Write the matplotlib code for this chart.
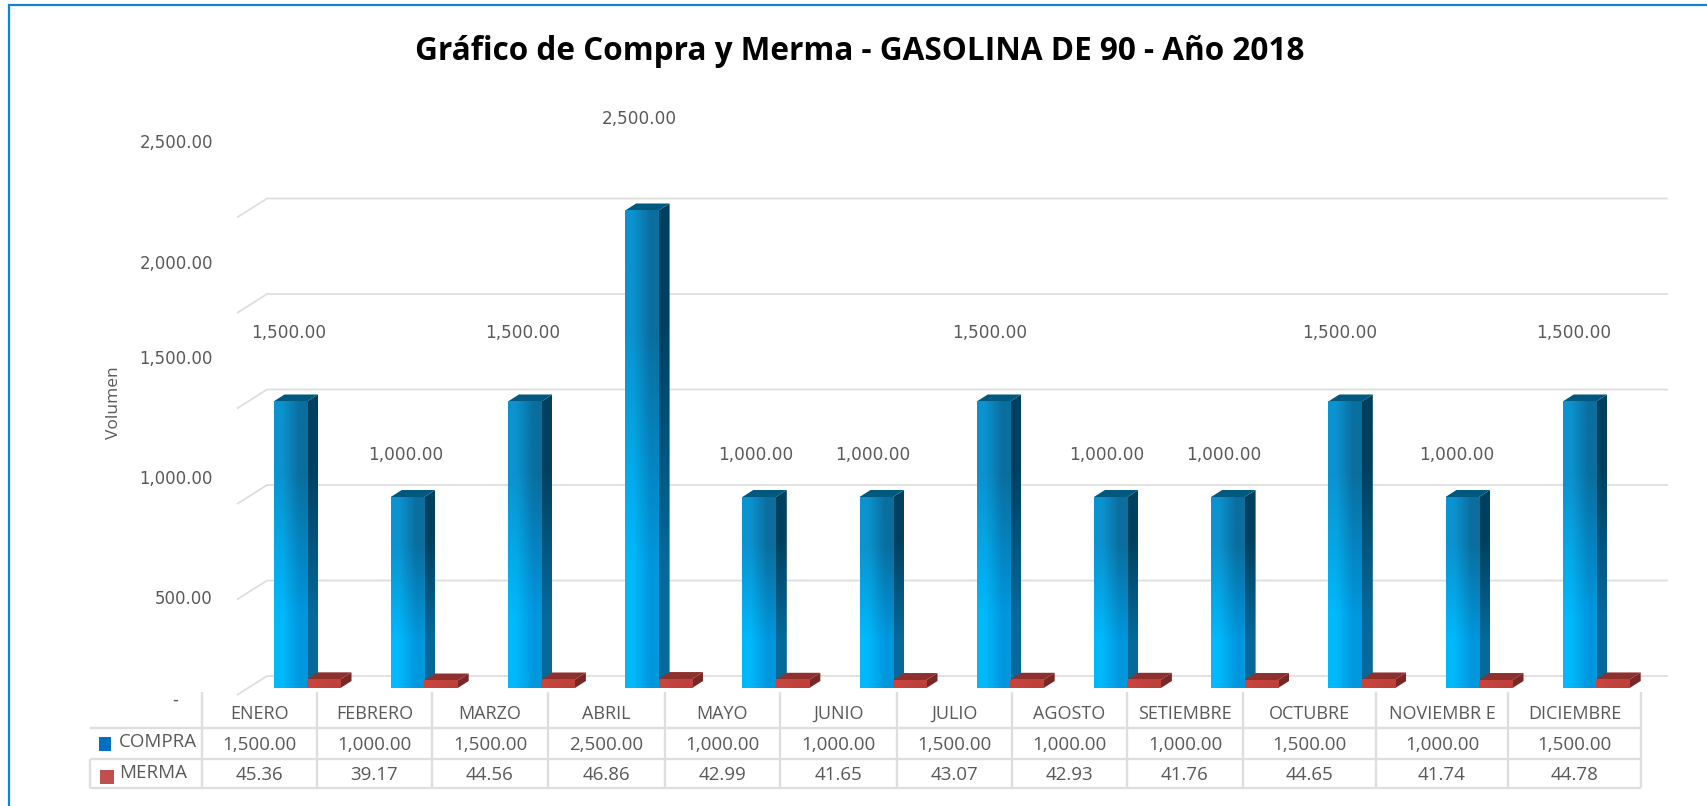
import numpy as np
import matplotlib
matplotlib.use('Agg')
import matplotlib.pyplot as plt
from matplotlib.patches import Polygon, Rectangle

meses = ['ENERO', 'FEBRERO', 'MARZO', 'ABRIL', 'MAYO', 'JUNIO', 'JULIO', 'AGOSTO',
         'SETIEMBRE', 'OCTUBRE', 'NOVIEMBR E', 'DICIEMBRE']
compra = [1500, 1000, 1500, 2500, 1000, 1000, 1500, 1000, 1000, 1500, 1000, 1500]
merma = [45.36, 39.17, 44.56, 46.86, 42.99, 41.65, 43.07, 42.93, 41.76, 44.65, 41.74, 44.78]
y_ticks = [0, 500, 1000, 1500, 2000, 2500]

# the picture is laid out in pixels, these turn pixels into data units
W, H = 1708, 806
SLOT = 117.2
UNIT = 0.191
BASE_Y = 688
X0 = 307
BAR_W = 33.5 / SLOT
DX = 11 / SLOT
DY = 7 / UNIT
GRAY = '#595959'
LINE = '#DEDEDE'
TICK_SHIFT = [12, 6.5, -18, -42, -42, -67]
LABEL_SHIFT = {1000: 42, 1500: 68, 2500: 92}
TABLE_X = [202, 317, 432, 548, 665, 780, 897, 1012, 1127, 1243, 1376, 1508, 1641]

fig = plt.figure(figsize=(W / 100, H / 100), dpi=100)
fig.patch.set_facecolor('white')


def hexrgb(c):
    return matplotlib.colors.to_rgb(c)


def gradient(box, tl, tr, bl, br, clip=None, z=3):
    x0, x1, y0, y1 = box
    img = np.array([[hexrgb(tl), hexrgb(tr)], [hexrgb(bl), hexrgb(br)]])
    im = ax.imshow(img, extent=[x0, x1, y0, y1], aspect='auto', interpolation='bilinear', zorder=z)
    if clip is not None:
        im.set_clip_path(clip)
    return im


# axes for the bars
left, right, top, bottom = 150, 1700, 80, 710
ax = fig.add_axes([left / W, 1 - bottom / H, (right - left) / W, (bottom - top) / H])
ax.set_xlim((left - X0) / SLOT, (right - X0) / SLOT)
ax.set_ylim((BASE_Y - bottom) / UNIT, (BASE_Y - top) / UNIT)
ax.autoscale(False)
ax.axis('off')

# walls: grid lines and the diagonal at the left
wall_y = 12 / UNIT
wall_x0 = (267 - X0) / SLOT
wall_x1 = (1668 - X0) / SLOT
front_x = (237 - X0) / SLOT
for v in y_ticks:
    ax.plot([front_x, wall_x0, wall_x1], [v + wall_y - 19 / UNIT, v + wall_y, v + wall_y],
            color=LINE, lw=1.3, zorder=1, solid_capstyle='butt', solid_joinstyle='miter')

x = np.arange(len(meses))
bars1 = ax.bar(x - BAR_W / 2, compra, BAR_W, color='none', zorder=2)
bars2 = ax.bar(x + BAR_W / 2, merma, BAR_W, color='none', zorder=2)


def draw_box(rect, z, front, side, topc):
    x0 = rect.get_x()
    x1 = x0 + rect.get_width()
    h = rect.get_height()
    side_poly = Polygon([(x1, 0), (x1 + DX, DY), (x1 + DX, h + DY), (x1, h)], closed=True,
                        transform=ax.transData, fc='none', ec='none', zorder=z)
    ax.add_patch(side_poly)
    gradient((x1, x1 + DX, 0, h + DY), side[0], side[0], side[1], side[1], clip=side_poly, z=z)
    ax.fill([x0, x0 + DX, x1 + DX, x1], [h, h + DY, h + DY, h], color=topc, lw=0, zorder=z)
    gradient((x0, x1, 0, h), *front, z=z + 0.1)


for i in range(len(meses)):
    z = 3 + i
    draw_box(bars1[i], z, ('#0B92CF', '#0A6E9E', '#00B9FB', '#0097DE'),
             ('#00405F', '#06699A'), '#00587F')
    draw_box(bars2[i], z + 0.3, ('#C8443E', '#C0423C', '#C8443E', '#BD3F3A'),
             ('#7A2725', '#7A2725'), '#8E302D')
    ax.annotate(f'{compra[i]:,.2f}', xy=(x[i] - BAR_W / 2, compra[i]),
                xytext=(-0.4 * i * 0.72 - 1, LABEL_SHIFT[compra[i]] * 0.72), textcoords='offset points',
                ha='center', va='center', fontsize=12.2, color=GRAY, zorder=30)

# axis tick labels sit away from their grid lines in the original
tick_x = (213 - X0) / SLOT
for v, s in zip(y_ticks, TICK_SHIFT):
    txt = f'{v:,.2f}' if v else '-'
    ax.annotate(txt, xy=(tick_x if v else (178 - X0) / SLOT, v),
                xytext=(0, -s * 0.72), textcoords='offset points',
                ha='right', va='center', fontsize=11.9, color=GRAY, zorder=30)

# overlay in plain pixels: frame, title, table
px = fig.add_axes([0, 0, 1, 1], facecolor='none')
px.set_xlim(0, W)
px.set_ylim(H, 0)
px.axis('off')

px.plot([9.5, 9.5, W], [H, 5, 5], color='#1480D8', lw=1.6, solid_joinstyle='miter')

font = ['Open Sans', 'DejaVu Sans']
px.text(860, 52, 'Gráfico de Compra y Merma - GASOLINA DE 90 - Año 2018', ha='center', va='center',
        fontsize=22.7, fontweight='bold', color='black', family=font)
px.text(114, 403, 'Volumen', rotation=90, ha='center', va='center', fontsize=12.5, color=GRAY, family=font)

for xp in TABLE_X:
    px.plot([xp, xp], [692, 788], color=LINE, lw=1.7, solid_capstyle='butt')
px.plot([90, 90], [759, 788], color=LINE, lw=1.7, solid_capstyle='butt')
for yp in [728, 759, 788]:
    px.plot([90, 1641], [yp, yp], color=LINE, lw=1.7, solid_capstyle='butt')

for i, mes in enumerate(meses):
    cx = (TABLE_X[i] + TABLE_X[i + 1]) / 2
    px.text(cx, 714, mes, ha='center', va='center', fontsize=13, color=GRAY, family=font)
    px.text(cx, 745, f'{compra[i]:,.2f}', ha='center', va='center', fontsize=13.5, color=GRAY, family=font)
    px.text(cx, 775, f'{merma[i]:.2f}', ha='center', va='center', fontsize=13.5, color=GRAY, family=font)

px.add_patch(Rectangle((99, 737), 12, 14, fc='#0070C0', ec='none'))
px.add_patch(Rectangle((100, 770), 14, 14, fc='#C0504D', ec='none'))
px.text(119, 742, 'COMPRA', ha='left', va='center', fontsize=13.5, color=GRAY, family=font)
px.text(119, 773, 'MERMA', ha='left', va='center', fontsize=13.5, color=GRAY, family=font)

fig.savefig('out.png', dpi=100)
